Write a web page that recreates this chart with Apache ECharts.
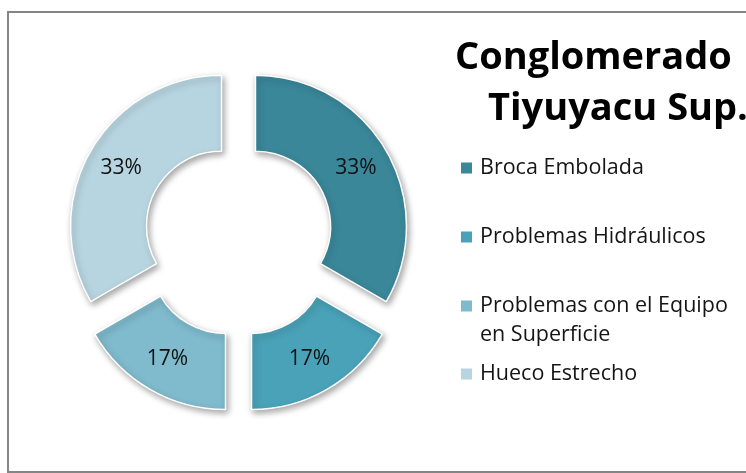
<!DOCTYPE html>
<html>
<head>
<meta charset="utf-8">
<script src="https://cdn.jsdelivr.net/npm/echarts@6/dist/echarts.min.js"></script>
<style>
  html, body { margin: 0; padding: 0; background: #fff; }
  #chart { width: 746px; height: 473px; }
</style>
</head>
<body>
<div id="chart"></div>
<script>
// Causes of drilling trouble in the Tiyuyacu Sup. conglomerate
const categories = ['Broca Embolada', 'Problemas Hidráulicos', 'Problemas con el Equipo en Superficie', 'Hueco Estrecho'];
const legendText = ['Broca Embolada', 'Problemas Hidráulicos', 'Problemas con el Equipo\nen Superficie', 'Hueco Estrecho'];
const values = [2, 1, 1, 2];
const titleLines = ['Conglomerado', 'Tiyuyacu Sup.'];

const colors = ['#3A879A', '#4AA2B8', '#7FBACD', '#B7D5E0'];
const FONT = 'Open Sans';

// The upper and lower halves of the ring are pulled out by different amounts,
// so each half is its own pie series over the same data.
function ring(visible, offset) {
  return {
    type: 'pie',
    center: [238.5, 236],
    radius: [75, 151],
    startAngle: 90,
    clockwise: true,
    selectedMode: 'multiple',
    selectedOffset: offset,
    avoidLabelOverlap: false,
    percentPrecision: 0,
    silent: true,
    animation: false,
    emphasis: { disabled: true },
    labelLine: { show: false },
    label: {
      show: true,
      position: 'inside',
      formatter: '{d}%',
      fontFamily: FONT,
      fontSize: 21,
      color: '#111'
    },
    data: categories.map((name, i) => {
      const on = visible.includes(i);
      const style = on ? {
        color: colors[i],
        borderColor: '#fff',
        borderWidth: 1.5,
        shadowBlur: 6,
        shadowOffsetX: 2,
        shadowOffsetY: 3,
        shadowColor: 'rgba(0,0,0,0.35)'
      } : { color: 'rgba(0,0,0,0)', borderWidth: 0 };
      return {
        name: name,
        value: values[i],
        selected: on,
        itemStyle: style,
        select: { itemStyle: style },
        label: { show: on }
      };
    })
  };
}

// one legend block per entry, stacked at fixed slots;
// a wrapped entry gets a blank leading line so its first line sits beside the swatch
const legendCenters = [168, 237, 306, 374];
const LINE_H = 29;
const legends = categories.map((name, i) => {
  const lines = legendText[i].split('\n').length;
  const shown = lines > 1 ? '\n'.repeat(lines - 1) + legendText[i] : legendText[i];
  const totalLines = lines > 1 ? 2 * lines - 1 : 1;
  return {
    orient: 'vertical',
    left: 461,
    top: legendCenters[i] - (totalLines * LINE_H) / 2,
    padding: 0,
    itemWidth: 11,
    itemHeight: 11,
    icon: 'rect',
    selectedMode: false,
    data: [{ name: name, itemStyle: { color: colors[i], borderWidth: 0, shadowColor: 'transparent' } }],
    formatter: () => shown,
    textStyle: {
      fontFamily: FONT,
      fontSize: 21.5,
      color: '#151515',
      lineHeight: LINE_H,
      padding: [0, 0, 0, 3]
    }
  };
});

const chart = echarts.init(document.getElementById('chart'), null, { renderer: 'canvas' });
chart.setOption({
  backgroundColor: '#fff',
  animation: false,
  title: [
    { text: titleLines[0], left: 455, top: 33, padding: 0,
      textStyle: { fontFamily: FONT, fontWeight: 'bold', fontSize: 38, lineHeight: 50, color: '#000' } },
    { text: titleLines[1], left: 488, top: 84, padding: 0,
      textStyle: { fontFamily: FONT, fontWeight: 'bold', fontSize: 38, lineHeight: 50, color: '#000' } }
  ],
  legend: legends,
  graphic: [{
    type: 'rect',
    silent: true,
    z: -1,
    shape: { x: 8, y: 12, width: 800, height: 460 },
    style: { fill: 'none', stroke: '#858585', lineWidth: 2 }
  }],
  series: [ring([0, 3], 19.6), ring([1, 2], 26)]
});
</script>
</body>
</html>
